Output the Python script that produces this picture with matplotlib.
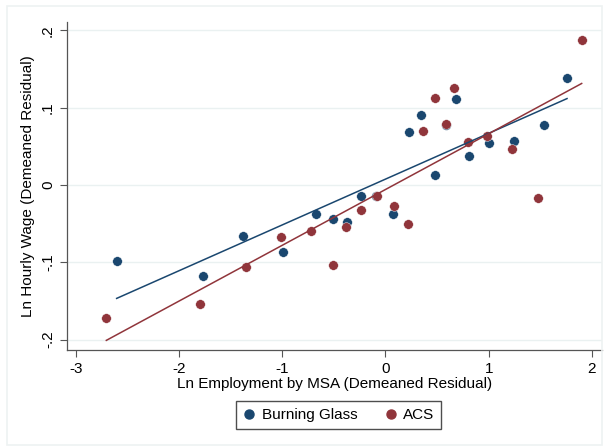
import numpy as np
import matplotlib.pyplot as plt
from matplotlib.patches import Rectangle
from matplotlib.lines import Line2D

# Burning Glass (navy) residuals
bg_x = [-2.605, -1.771, -1.378, -0.993, -0.673, -0.506, -0.376, -0.240, -0.090,
        0.072, 0.228, 0.344, 0.480, 0.583, 0.683, 0.812, 1.006, 1.242, 1.539, 1.759]
bg_y = [-0.098, -0.118, -0.066, -0.087, -0.038, -0.044, -0.048, -0.014, -0.014,
        -0.037, 0.068, 0.090, 0.013, 0.078, 0.111, 0.037, 0.054, 0.057, 0.077, 0.138]

# ACS (maroon) residuals
acs_x = [-2.705, -1.797, -1.352, -1.013, -0.719, -0.506, -0.386, -0.240, -0.085,
         0.084, 0.221, 0.360, 0.480, 0.589, 0.667, 0.796, 0.987, 1.229, 1.481, 1.901]
acs_y = [-0.172, -0.154, -0.106, -0.067, -0.059, -0.104, -0.054, -0.032, -0.014,
         -0.027, -0.051, 0.070, 0.112, 0.079, 0.126, 0.055, 0.064, 0.046, -0.017, 0.188]

x_ticks = [-3, -2, -1, 0, 1, 2]
y_ticks = [-0.2, -0.1, 0, 0.1, 0.2]
y_tick_labels = ['-.2', '-.1', '0', '.1', '.2']

navy = '#1a476f'
maroon = '#90353b'

plt.rcParams['font.family'] = ['Liberation Sans', 'DejaVu Sans']
plt.rcParams['axes.unicode_minus'] = False

fig = plt.figure(figsize=(6.1, 4.46), dpi=100)
ax = fig.add_axes([66.7 / 610, 96 / 446, 535 / 610, 328.3 / 446])

# faint graph-region frame
fig.patches.append(Rectangle((7 / 610, 1 - 445 / 446), 595 / 610, 439 / 446,
                             transform=fig.transFigure, fill=False,
                             edgecolor='#eef2f2', linewidth=1.2, zorder=0))

ax.set_xlim(-3.089, 2.095)
ax.set_ylim(-0.2135, 0.2113)

ax.scatter(bg_x, bg_y, s=48, color=navy, edgecolors='white', linewidths=0.3, zorder=3)
ax.scatter(acs_x, acs_y, s=48, color=maroon, edgecolors='white', linewidths=0.3, zorder=4)

# linear fits
for xs, ys, c in [(bg_x, bg_y, navy), (acs_x, acs_y, maroon)]:
    xs = np.array(xs)
    b, a = np.polyfit(xs, ys, 1)
    xx = np.array([xs.min(), xs.max()])
    ax.plot(xx, a + b * xx, color=c, linewidth=1.1, zorder=5)

ax.set_xticks(x_ticks)
ax.set_xticklabels([str(t) for t in x_ticks])
ax.set_yticks(y_ticks)
ax.set_yticklabels(y_tick_labels, rotation=90, va='center')
ax.tick_params(axis='both', labelsize=11, length=5, width=0.8, color='#555555')
ax.grid(axis='y', color='#eaf1f1', linewidth=1.0)
ax.set_axisbelow(True)

for side in ['top', 'right']:
    ax.spines[side].set_visible(False)
for side in ['left', 'bottom']:
    ax.spines[side].set_color('#555555')
    ax.spines[side].set_linewidth(0.9)

ax.set_xlabel('Ln Employment by MSA (Demeaned Residual)', fontsize=11, labelpad=1)
ax.set_ylabel('Ln Hourly Wage (Demeaned Residual)', fontsize=11, labelpad=4)

handles = [Line2D([], [], marker='o', linestyle='none', color=navy, markersize=6.5),
           Line2D([], [], marker='o', linestyle='none', color=maroon, markersize=6.5)]
leg = fig.legend(handles, ['Burning Glass', 'ACS'], ncol=2, fontsize=11,
                 loc='center', bbox_to_anchor=(338.7 / 610, 1 - 415 / 446),
                 frameon=True, fancybox=False, handlelength=0.8, handletextpad=0.4,
                 columnspacing=1.8, borderpad=0.45)
leg.get_frame().set_edgecolor('#222222')
leg.get_frame().set_linewidth(1.0)

fig.savefig('out.png', dpi=100, facecolor='white')
